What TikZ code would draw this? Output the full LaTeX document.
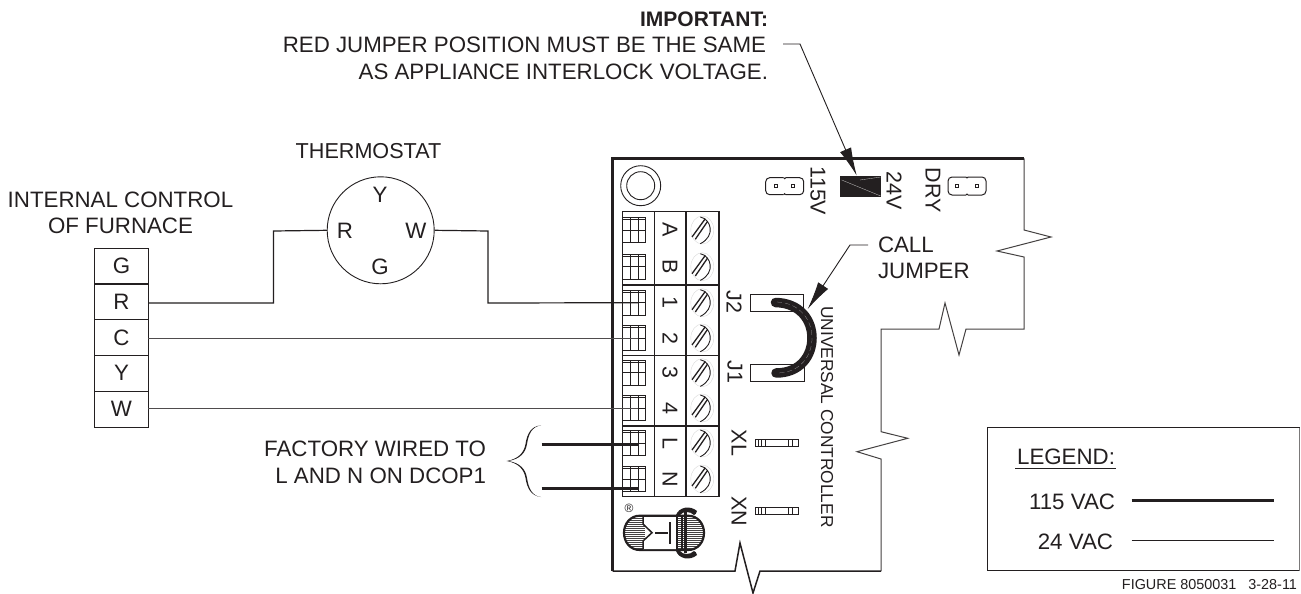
\documentclass[tikz,border=0pt]{standalone}
\usepackage{fontspec}
\setmainfont{Liberation Sans}
\usetikzlibrary{arrows.meta}
\definecolor{ink}{HTML}{231F20}
\tikzset{
  lab/.style={font=\fontsize{22.3}{22.3}\selectfont,text=ink,inner sep=0pt,outer sep=0pt},
  labb/.style={lab,anchor=base},
  labe/.style={lab,anchor=base east},
  labw/.style={lab,anchor=base west},
  vlab/.style={lab,font=\fontsize{21.5}{21.5}\selectfont,rotate=-90,anchor=center},
  row/.style={draw=ink,line width=1.1pt,minimum width=53.5pt,minimum height=35.7pt,lab,inner sep=0pt},
  wire/.style={draw=ink,line width=1.2pt},
  thin wire/.style={draw=ink!80,line width=1pt},
  power/.style={draw=ink,line width=3pt},
  thick board/.style={draw=ink,line width=2.6pt},
  thin board/.style={draw=ink!85,line width=1pt},
  part/.style={draw=ink,line width=0.9pt},
  tip/.style={-{Latex[length=28pt,width=12pt]},draw=ink,line width=0.9pt},
  pin/.style={draw=ink,line width=1pt,rounded corners=4pt},
}
\begin{document}
\begin{tikzpicture}[x=1pt,y=-1pt]
\useasboundingbox (0,0) rectangle (1301,594);
\fill[white] (0,0) rectangle (1301,594);

% notes
\node[labe,font=\fontsize{21}{21}\selectfont\bfseries] (imp) at (768,26.5) {IMPORTANT:};
\node[labe] (note1) at (766,52.5) {RED JUMPER POSITION MUST BE THE SAME};
\node[labe] (note2) at (768,79.5) {AS APPLIANCE INTERLOCK VOLTAGE.};
\node[labb,font=\fontsize{21.6}{21.6}\selectfont] (thtitle) at (368.5,158.5) {THERMOSTAT};
\node[labb] (ic1) at (120.5,207) {INTERNAL CONTROL};
\node[labb] (ic2) at (120.5,233) {OF FURNACE};

% furnace block
\foreach \n/\y/\t in {fG/266/G,fR/302/R,fC/337.5/C,fY/373.3/Y,fW/409.3/W}
  \node[row] (\n) at (121.5,\y) {\t};

% thermostat
\node[draw=ink,line width=0.9pt,circle,minimum size=107pt,inner sep=0pt] (thermo) at (380.7,230.3) {};
\node[lab] (tY) at (380,195) {Y};
\node[lab] (tR) at (345,231) {R};
\node[lab] (tW) at (416,231) {W};
\node[lab] (tG) at (380,267) {G};

% board outline
\draw[thin board] (1024,158.3) -- (1024,230) -- (1051,237) -- (997,251) -- (1024,257) -- (1024,329)
  -- (966,329) -- (959,355) -- (945,303) -- (939,329) -- (881,329) -- (881,431.7)
  -- (907.7,438.3) -- (857,451.7) -- (881,459) -- (881,571);
\draw[line width=1.5pt,draw=ink] (881,571) -- (760,571) -- (753,593) -- (740,543) -- (735,571) -- (612.7,571);
\draw[thick board] (612.7,571) -- (612.7,158.3) -- (1024,158.3);
\node[draw=ink,line width=0.9pt,circle,minimum size=40pt,inner sep=0pt] (mhole) at (640.7,185.7) {};
\draw[ink,line width=0.9pt] (mhole) circle (14);

% terminal block
\draw[part,line width=1.1pt] (622.7,211.7) rectangle (719,496.7);
\draw[part,line width=1.1pt] (654.3,211.7) -- (654.3,496.7) (686,211.7) -- (686,496.7);
\draw[ink,line width=1.5pt] (622.7,285) -- (719,285) (622.7,355.3) -- (719,355.3) (622.7,426) -- (719,426);
\foreach \n/\y/\t in {tA/230/A,tB/266.7/B,t1/302.7/1,t2/338/2,t3/372.7/3,t4/408/4,tL/443/L,tN/479/N}{
  \node[vlab] (\n) at (670,\y) {\t};
  \draw[ink,line width=0.8pt] (622.7,\y-12.5) rectangle (645,\y+12.5);
  \draw[ink,line width=0.8pt] (630.7,\y-12.5) -- (630.7,\y+12.5) (638,\y-12.5) -- (638,\y+12.5) (622.7,\y) -- (645,\y) (622.7,\y-10.5) -- (645,\y-10.5);
  \draw[black!15,line width=0.4pt] (702.3,\y) ellipse (11.5 and 14);
  \draw[ink,line width=0.9pt] (700.3,\y-13) .. controls (711,\y-11) and (716,\y+6) .. (700.3,\y+13.7);
  \draw[ink,line width=1.3pt] (692,\y+7) -- (705.3,\y-11.3) (695.3,\y+9.3) -- (707.6,\y-8.7);
}
\coordinate (p1) at (638,302.7);
\coordinate (p2) at (638,338);
\coordinate (p4) at (638,408);
\coordinate (pL) at (639,444);
\coordinate (pN) at (639,488);
\coordinate (fL) at (541.7,444);
\coordinate (fN) at (541.7,488);

% wires
\draw[wire] (fR.east |- 0,303) -- (273.5,303) -- (273.5,231) -- (thermo.west);
\draw[wire] (thermo.east) -- (488,231) -- (488,303) -- (p1);
\draw[thin wire] (fC.east |- 0,338) -- (p2);
\draw[thin wire] (fW.east |- 0,408) -- (p4);
\draw[power] (fL) -- (pL);
\draw[power] (fN) -- (pN);

% factory note
\node[labe] (fa1) at (486,456) {FACTORY WIRED TO};
\node[labe] (fa2) at (486,483) {L AND N ON DCOP1};
\fill[ink] (541,425.4) .. controls (531,426) and (527,434) .. (525.5,444) .. controls (524,453) and (518,459) .. (506.7,461)
  .. controls (518,463) and (524,469) .. (525.5,478) .. controls (527,488) and (531,496) .. (541,497)
  .. controls (532,496) and (528.5,488) .. (527,478) .. controls (525.5,469) and (520,463) .. (508.5,461)
  .. controls (520,459) and (525.5,453) .. (527,444) .. controls (528.5,434) and (532,426.5) .. (541,425.4) -- cycle;

% pins
\foreach \n/\x/\y/\t in {p115/765.7/177.7/17,pdry/948/177/18}{
  \draw[pin] (\x+18,\y) -- (\x,\y) -- (\x,\y+\t) -- (\x+18,\y+\t);
  \draw[pin] (\x+20,\y) -- (\x+38,\y) -- (\x+38,\y+\t) -- (\x+20,\y+\t);
  \draw[ink,line width=1pt] (\x+18,\y) -- (\x+19,\y+1) -- (\x+20,\y) (\x+18,\y+\t) -- (\x+19,\y+\t-1) -- (\x+20,\y+\t);
}
\foreach \x/\y in {776/186,793/186,957/186,977/186}
  \draw[ink,line width=0.7pt] (\x-1.5,\y-1.5) rectangle (\x+1.5,\y+1.5);
\node[vlab] (l115) at (818,191) {115V};
\node[vlab] (l24) at (894,190.5) {24V};
\node[vlab] (ldry) at (933,190.5) {DRY};
\node[fill=ink,minimum width=40.4pt,minimum height=20.7pt,inner sep=0pt] (redj) at (860.5,186.3) {};
\draw[white!75!ink,line width=0.3pt] (841.7,180) -- (880.7,196) (860,180) -- (880.7,177);

% call jumper
\node[draw=ink,line width=0.9pt,minimum width=53pt,minimum height=17pt,inner sep=0pt] (j2) at (776.5,302.5) {};
\node[draw=ink,line width=0.9pt,minimum width=54pt,minimum height=17pt,inner sep=0pt] (j1) at (777,372.7) {};
\draw[ink,line width=9.5pt,line cap=round] (j2.center) ++(-1,0) .. controls (800,303) and (812,320) .. (812,338) .. controls (812,356) and (800,373) .. (776,373);
\draw[white!55!ink,line width=0.25pt,dash pattern=on 5pt off 3pt] (777,302) .. controls (800,303) and (812,320) .. (812,338) .. controls (812,356) and (800,373) .. (777,373);
\node[vlab] (lj2) at (734,302) {J2};
\node[vlab] (lj1) at (735,372) {J1};
\node[vlab] (lxl) at (739,443) {XL};
\node[vlab] (lxn) at (739,511) {XN};
\node[lab,rotate=-90,font=\fontsize{17.3}{17.3}\selectfont] (univ) at (827,417) {UNIVERSAL CONTROLLER};
\node[labw] (call1) at (878,252.7) {CALL};
\node[labw] (call2) at (878,278.3) {JUMPER};

% arrows
\coordinate (a0) at (783,44);
\coordinate (a1) at (800,44);
\coordinate (a2) at (856.7,175.5);
\draw[tip] (a0) -- (a1) -- (a2);
\coordinate (b0) at (868,245);
\coordinate (b1) at (850,245);
\coordinate (b2) at (807.7,309);
\draw[tip] (b0) -- (b1) -- (b2);

% XL XN connectors
\foreach \n/\y in {xl/443,xn/511}{
  \draw[ink,line width=0.9pt] (755,\y-3.3) rectangle (798,\y+3.3);
  \draw[ink,line width=0.7pt] (758,\y-3.3) -- (758,\y+3.3) (761,\y-3.3) -- (761,\y+3.3) (765,\y-3.3) -- (765,\y+3.3)
     (788,\y-3.3) -- (788,\y+3.3) (792,\y-3.3) -- (792,\y+3.3);
}

% logo
\begin{scope}
  \clip (645,515.7) -- (640,515.7) .. controls (630,515.7) and (624,524) .. (624,532.7) .. controls (624,542) and (630,550) .. (640,550) -- (645,550) -- cycle;
  \fill[ink!85] (620,512) rectangle (645,553);
  \foreach \i in {0,2,...,38} \draw[white,line width=0.35pt] (620,515+\i) -- (645,515+\i);
\end{scope}
\begin{scope}
  \clip (677,515.7) -- (688,515.7) .. controls (698,515.7) and (704,524) .. (704,532.7) .. controls (704,542) and (698,550) .. (688,550) -- (677,550) -- cycle;
  \fill[ink!85] (677,512) rectangle (706,553);
  \foreach \i in {0,2,...,38} \draw[white,line width=0.35pt] (677,515+\i) -- (706,515+\i);
\end{scope}
\draw[ink,line width=2.2pt] (640,515.7) -- (688,515.7) .. controls (698,515.7) and (704,524) .. (704,532.7) .. controls (704,542) and (698,550) .. (688,550) -- (640,550) .. controls (630,550) and (624,542) .. (624,532.7) .. controls (624,524) and (630,515.7) .. (640,515.7) -- cycle;
\fill[white] (643,517) -- (677,517) -- (677,549) -- (643,549) -- (643,541) -- (652,532.7) -- (643,524) -- cycle;
\draw[ink,line width=1.5pt] (643,517) -- (643,524) -- (652,532.7) -- (643,541) -- (643,549);
\draw[ink,line width=1.8pt] (655,533) -- (668,533);
\draw[ink,line width=2pt] (669.5,522) -- (669.5,544);
\draw[ink,line width=1.6pt] (677,516) -- (677,550) (682,516) -- (682,550);
\draw[ink,line width=2.4pt] (685.5,512) -- (685.5,553);
\fill[ink] (676,515) .. controls (679,507) and (690,505) .. (697,511) .. controls (697,513) and (695,515) .. (694,515) .. controls (690,511) and (683,511) .. (680,515) -- cycle;
\fill[ink] (676,551) .. controls (679,559) and (690,561) .. (697,555) .. controls (697,553) and (695,551) .. (694,551) .. controls (690,555) and (683,555) .. (680,551) -- cycle;
\node[lab,font=\fontsize{12}{12}\selectfont] (reg) at (629,508.5) {®};

% legend
\draw[ink,line width=1.5pt] (1299.5,427.7) -- (987.3,427.7) -- (987.3,570.7) -- (1299.5,570.7);
\draw[ink!60,line width=1pt] (1299.5,427.7) -- (1299.5,570.7);
\node[labe] (lg) at (1115,464.3) {LEGEND:};
\draw[ink,line width=0.9pt] (1015,468.7) -- (1116,468.7);
\node[labe] (l115v) at (1115,509) {115 VAC};
\node[labe] (l24v) at (1113,549) {24 VAC};
\coordinate (s1a) at (1131.7,500.7);
\coordinate (s1b) at (1274,500.7);
\coordinate (s2a) at (1131.7,540.7);
\coordinate (s2b) at (1274,540.7);
\draw[power,line width=3pt] (s1a) -- (s1b);
\draw[wire,line width=0.9pt] (s2a) -- (s2b);
\node[labe,font=\fontsize{14.4}{14.4}\selectfont] (figno) at (1297,589) {FIGURE 8050031\ \ \ 3-28-11};
\end{tikzpicture}
\end{document}
